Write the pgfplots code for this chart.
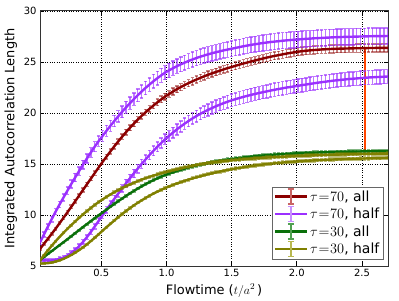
\documentclass[border=0pt]{standalone}
\usepackage{pgfplots}
\pgfplotsset{compat=1.18}
\usepackage{pgfplotstable}
\usepackage{fontspec}
\setmainfont{DejaVu Sans}
\definecolor{cR}{HTML}{8B0000}
\definecolor{cRe}{HTML}{C86464}
\definecolor{cP}{HTML}{9B30FF}
\definecolor{cPe}{HTML}{C890FF}
\definecolor{cG}{HTML}{0A700A}
\definecolor{cGe}{HTML}{50A050}
\definecolor{cO}{HTML}{808000}
\definecolor{cOe}{HTML}{B8B850}
\definecolor{cOr}{HTML}{FF4500}
\pgfplotstableread{
t R P1 P2 G O1 O2
0.03 6.68 7.30 5.62 5.60 5.55 5.25
0.06 7.17 8.08 5.56 5.88 6.05 5.25
0.09 7.66 8.85 5.53 6.17 6.53 5.28
0.12 8.16 9.60 5.54 6.46 6.99 5.34
0.15 8.66 10.33 5.60 6.75 7.43 5.43
0.18 9.19 11.03 5.70 7.04 7.85 5.55
0.21 9.72 11.71 5.84 7.33 8.25 5.70
0.24 10.26 12.38 6.03 7.62 8.64 5.88
0.27 10.80 13.04 6.28 7.92 9.01 6.08
0.30 11.35 13.68 6.58 8.22 9.37 6.31
0.33 11.90 14.31 6.94 8.52 9.72 6.56
0.36 12.46 14.93 7.36 8.82 10.06 6.83
0.39 13.01 15.54 7.83 9.11 10.38 7.12
0.42 13.56 16.13 8.34 9.40 10.69 7.44
0.45 14.11 16.70 8.87 9.69 10.99 7.77
0.48 14.66 17.24 9.42 9.97 11.27 8.11
0.51 15.20 17.75 9.97 10.25 11.53 8.46
0.54 15.72 18.25 10.51 10.53 11.78 8.80
0.57 16.23 18.74 11.05 10.81 12.01 9.13
0.60 16.73 19.21 11.58 11.08 12.23 9.46
0.63 17.21 19.67 12.10 11.35 12.44 9.78
0.66 17.67 20.12 12.61 11.61 12.64 10.09
0.69 18.12 20.55 13.11 11.87 12.82 10.39
0.72 18.55 20.96 13.60 12.12 12.99 10.67
0.75 18.96 21.36 14.08 12.36 13.16 10.94
0.78 19.35 21.74 14.55 12.59 13.32 11.20
0.81 19.72 22.11 15.01 12.81 13.47 11.44
0.84 20.07 22.46 15.45 13.02 13.61 11.67
0.87 20.41 22.79 15.88 13.22 13.74 11.89
0.90 20.73 23.11 16.29 13.41 13.86 12.10
0.93 21.04 23.41 16.68 13.59 13.98 12.29
0.96 21.33 23.69 17.06 13.76 14.09 12.47
0.99 21.61 23.96 17.42 13.92 14.20 12.64
1.02 21.86 24.18 17.76 14.06 14.30 12.80
1.05 22.10 24.39 18.08 14.19 14.40 12.95
1.08 22.33 24.59 18.39 14.31 14.49 13.09
1.11 22.54 24.77 18.68 14.43 14.58 13.22
1.14 22.74 24.94 18.96 14.54 14.67 13.35
1.17 22.93 25.10 19.22 14.65 14.75 13.47
1.20 23.11 25.25 19.47 14.75 14.83 13.59
1.23 23.28 25.39 19.70 14.85 14.91 13.70
1.26 23.44 25.52 19.92 14.94 14.98 13.80
1.29 23.60 25.64 20.12 15.02 15.04 13.90
1.32 23.75 25.75 20.31 15.10 15.10 14.00
1.35 23.89 25.86 20.49 15.17 15.15 14.09
1.38 24.02 25.96 20.66 15.24 15.20 14.18
1.41 24.15 26.05 20.82 15.31 15.24 14.26
1.44 24.28 26.14 20.97 15.37 15.28 14.34
1.47 24.40 26.22 21.11 15.43 15.32 14.42
1.50 24.51 26.30 21.24 15.49 15.36 14.49
1.53 24.63 26.38 21.36 15.54 15.40 14.56
1.56 24.74 26.46 21.47 15.59 15.43 14.62
1.59 24.85 26.54 21.58 15.64 15.46 14.68
1.62 24.95 26.61 21.68 15.68 15.49 14.74
1.65 25.05 26.68 21.78 15.72 15.52 14.80
1.68 25.15 26.74 21.87 15.76 15.55 14.85
1.71 25.25 26.80 21.96 15.80 15.58 14.90
1.74 25.34 26.86 22.04 15.83 15.60 14.95
1.77 25.43 26.91 22.12 15.86 15.63 14.99
1.80 25.52 26.96 22.20 15.89 15.65 15.03
1.83 25.60 27.00 22.28 15.92 15.67 15.07
1.86 25.67 27.04 22.35 15.95 15.69 15.11
1.89 25.75 27.08 22.42 15.97 15.71 15.14
1.92 25.82 27.12 22.49 15.99 15.73 15.17
1.95 25.89 27.15 22.55 16.01 15.75 15.20
1.98 25.95 27.18 22.61 16.03 15.77 15.23
2.01 26.01 27.21 22.67 16.05 15.79 15.26
2.04 26.06 27.24 22.73 16.07 15.80 15.28
2.07 26.10 27.27 22.79 16.09 15.82 15.31
2.10 26.14 27.29 22.85 16.10 15.83 15.33
2.13 26.17 27.32 22.91 16.12 15.85 15.35
2.16 26.20 27.34 22.97 16.13 15.86 15.37
2.19 26.23 27.36 23.02 16.14 15.87 15.39
2.22 26.25 27.38 23.07 16.15 15.89 15.41
2.25 26.27 27.40 23.12 16.16 15.90 15.43
2.28 26.29 27.42 23.17 16.17 15.91 15.44
2.31 26.30 27.43 23.21 16.18 15.92 15.46
2.34 26.31 27.45 23.25 16.19 15.93 15.47
2.37 26.32 27.46 23.29 16.20 15.94 15.49
2.40 26.33 27.47 23.33 16.21 15.95 15.50
2.43 26.34 27.48 23.36 16.22 15.96 15.51
2.46 26.35 27.49 23.39 16.22 15.97 15.52
2.49 26.35 27.50 23.42 16.23 15.98 15.53
2.52 26.36 27.51 23.45 16.24 15.98 15.54
2.55 26.37 27.52 23.48 16.24 15.99 15.55
2.58 26.37 27.53 23.50 16.25 16.00 15.56
2.61 26.38 27.53 23.52 16.25 16.00 15.57
2.64 26.38 27.54 23.54 16.26 16.01 15.58
2.67 26.39 27.54 23.56 16.26 16.01 15.59
2.70 26.39 27.55 23.58 16.27 16.02 15.60
}\data
\begin{document}
\begin{tikzpicture}
\begin{axis}[
  scale only axis, width=348bp, height=255bp,
  xmin=0.03, xmax=2.70, ymin=5, ymax=30,
  xtick={0.5,1.0,1.5,2.0,2.5}, ytick={5,10,15,20,25,30},
  x tick label style={/pgf/number format/.cd, fixed, fixed zerofill, precision=1, /tikz/.cd},
  /pgf/number format/assume math mode=true,
  tick label style={font=\fontsize{10}{12}\selectfont},
  label style={font=\fontsize{13}{15}\selectfont},
  xlabel={Flowtime ($t/a^2\,$)},
  ylabel={Integrated Autocorrelation Length},
  grid=major, major grid style={black, dotted, line width=0.8bp},
  tick align=inside, tick pos=both, major tick length=4bp,
  tick style={black, line width=0.6bp},
  axis line style={black!80, line width=1bp},
  legend style={at={(axis description cs:1,0)}, anchor=south east, xshift=-5bp, yshift=7bp,
    draw=black!60, font=\fontsize{14}{16}\selectfont, fill=white,
    inner sep=1.5bp, row sep=1bp},
  legend cell align=left,
]
\addplot[cOr, line width=2bp, forget plot] coordinates {(2.52,16.24) (2.52,26.36)};
\addplot[cR, line width=2.4bp,
  legend image code/.code={
    \draw[cR, line width=2.4bp] (0bp,0bp) -- (32bp,0bp);
    \draw[cRe, line width=1.5bp] (16bp,-7.5bp) -- (16bp,7.5bp);
    \draw[cRe, line width=1.5bp] (13bp,-7.5bp) -- (19bp,-7.5bp) (13bp,7.5bp) -- (19bp,7.5bp);},
  error bars/.cd, y dir=both, y fixed relative=0.015,
  error bar style={cR, opacity=0.5, line width=1.4bp},
  error mark options={cR, opacity=0.5, rotate=90, mark size=1.8bp, line width=1.4bp}]
  table[x=t, y=R]{\data};
\addlegendentry{$\tau\mkern1mu{=}\mkern1mu70$, all}
\addplot[cP, line width=2.4bp,
  legend image code/.code={
    \draw[cP, line width=2.4bp] (0bp,0bp) -- (32bp,0bp);
    \draw[cPe, line width=1.5bp] (16bp,-7.5bp) -- (16bp,7.5bp);
    \draw[cPe, line width=1.5bp] (13bp,-7.5bp) -- (19bp,-7.5bp) (13bp,7.5bp) -- (19bp,7.5bp);},
  error bars/.cd, y dir=both, y fixed relative=0.029,
  error bar style={cP, opacity=0.65, line width=1.4bp},
  error mark options={cP, opacity=0.65, rotate=90, mark size=1.8bp, line width=1.4bp}]
  table[x=t, y=P1]{\data};
\addlegendentry{$\tau\mkern1mu{=}\mkern1mu70$, half}
\addplot[cP, line width=2.4bp, forget plot,
  error bars/.cd, y dir=both, y fixed relative=0.029,
  error bar style={cP, opacity=0.65, line width=1.4bp},
  error mark options={cP, opacity=0.65, rotate=90, mark size=1.8bp, line width=1.4bp}]
  table[x=t, y=P2]{\data};
\addplot[cG, line width=2.4bp,
  legend image code/.code={
    \draw[cG, line width=2.4bp] (0bp,0bp) -- (32bp,0bp);
    \draw[cGe, line width=1.5bp] (16bp,-7.5bp) -- (16bp,7.5bp);
    \draw[cGe, line width=1.5bp] (13bp,-7.5bp) -- (19bp,-7.5bp) (13bp,7.5bp) -- (19bp,7.5bp);},
  error bars/.cd, y dir=both, y fixed relative=0.009,
  error bar style={cG, opacity=0.5, line width=1.4bp},
  error mark options={cG, opacity=0.5, rotate=90, mark size=1.8bp, line width=1.4bp}]
  table[x=t, y=G]{\data};
\addlegendentry{$\tau\mkern1mu{=}\mkern1mu30$, all}
\addplot[cO, line width=2.4bp,
  legend image code/.code={
    \draw[cO, line width=2.4bp] (0bp,0bp) -- (32bp,0bp);
    \draw[cOe, line width=1.5bp] (16bp,-7.5bp) -- (16bp,7.5bp);
    \draw[cOe, line width=1.5bp] (13bp,-7.5bp) -- (19bp,-7.5bp) (13bp,7.5bp) -- (19bp,7.5bp);},
  error bars/.cd, y dir=both, y fixed relative=0.009,
  error bar style={cO, opacity=0.5, line width=1.4bp},
  error mark options={cO, opacity=0.5, rotate=90, mark size=1.8bp, line width=1.4bp}]
  table[x=t, y=O1]{\data};
\addlegendentry{$\tau\mkern1mu{=}\mkern1mu30$, half}
\addplot[cO, line width=2.4bp, forget plot,
  error bars/.cd, y dir=both, y fixed relative=0.009,
  error bar style={cO, opacity=0.5, line width=1.4bp},
  error mark options={cO, opacity=0.5, rotate=90, mark size=1.8bp, line width=1.4bp}]
  table[x=t, y=O2]{\data};
\end{axis}
\pgfresetboundingbox
\path ([xshift=-40bp,yshift=-35bp]current axis.south west) rectangle ([xshift=11bp,yshift=11bp]current axis.north east);
\end{tikzpicture}
\end{document}
